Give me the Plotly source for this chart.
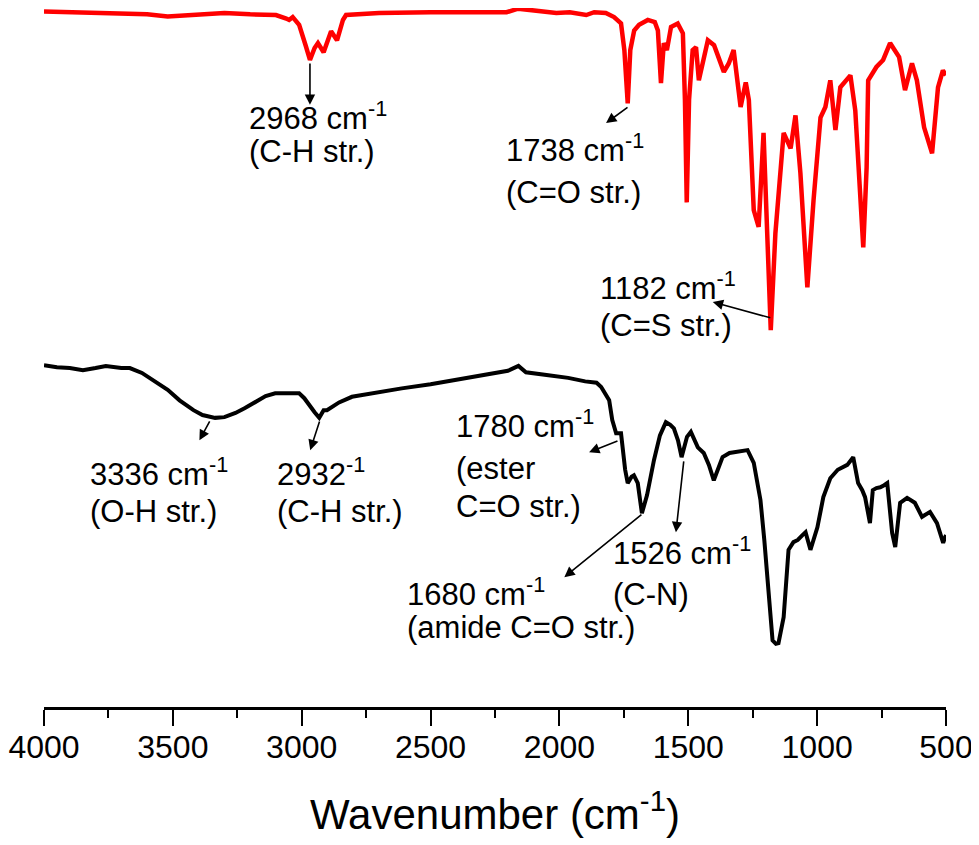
import plotly.graph_objects as go

# FTIR spectra, transmittance in arbitrary units (curves offset for clarity)
red_wavenumber = [4000, 3900, 3800, 3700, 3600, 3520, 3400, 3300, 3200, 3100, 3060, 3049, 3035, 3010,
                  2985, 2968, 2950, 2937, 2915, 2886, 2863, 2840, 2828, 2700, 2500, 2300, 2205, 2160,
                  2120, 2060, 2012, 1960, 1896, 1865, 1820, 1788, 1761, 1748, 1735, 1725, 1710, 1691,
                  1657, 1630, 1618, 1606, 1595, 1583, 1567, 1541, 1521, 1513, 1506, 1497, 1483, 1470,
                  1459, 1424, 1400, 1362, 1343, 1324, 1297, 1277, 1265, 1246, 1227, 1208, 1194, 1180,
                  1162, 1130, 1103, 1084, 1065, 1038, 1014, 987, 968, 949, 929, 910, 871, 852, 821,
                  808, 802, 770, 744, 717, 682, 659, 632, 613, 585, 554, 531, 512, 500]
red_transmittance = [99.1, 99.0, 98.9, 98.9, 98.7, 98.4, 98.7, 98.9, 98.7, 98.6, 98.1, 97.9, 98.3, 97.2,
                     94.3, 92.2, 93.9, 94.6, 93.3, 96.3, 95.0, 97.9, 98.6, 98.9, 99.0, 99.0, 99.0, 99.5,
                     99.3, 99.0, 98.9, 99.0, 98.6, 99.0, 98.9, 98.3, 97.4, 93.6, 86.0, 93.6, 96.4, 97.2,
                     97.9, 97.6, 96.4, 88.9, 94.6, 93.6, 96.9, 97.4, 96.0, 86.5, 71.9, 86.5, 93.6, 94.0,
                     89.3, 95.0, 94.3, 90.5, 91.7, 93.6, 85.5, 89.0, 86.5, 70.8, 68.4, 81.8, 67.5, 53.7,
                     67.5, 81.8, 79.6, 84.3, 76.1, 59.8, 72.2, 84.0, 85.5, 89.3, 82.2, 88.3, 90.0, 85.0, 65.5,
                     76.9, 89.3, 91.2, 92.2, 94.6, 92.6, 87.9, 91.7, 89.3, 82.6, 78.9, 88.3, 90.7, 90.0]

black_wavenumber = [4000, 3950, 3900, 3849, 3800, 3760, 3700, 3667, 3620, 3578, 3520, 3474, 3420, 3385,
                    3336, 3300, 3257, 3220, 3180, 3140, 3103, 3050, 3010, 2990, 2972, 2950, 2932, 2915,
                    2902, 2885, 2855, 2805, 2700, 2612, 2500, 2353, 2250, 2200, 2159, 2130, 2050, 1966,
                    1900, 1856, 1838, 1820, 1807, 1795, 1780, 1761, 1745, 1735, 1720, 1711, 1696, 1680,
                    1660, 1633, 1610, 1587, 1570, 1556, 1540, 1526, 1505, 1490, 1475, 1463, 1440, 1420,
                    1401, 1385, 1367, 1340, 1324, 1290, 1270, 1246, 1220, 1205, 1192, 1173, 1160, 1150,
                    1130, 1111, 1092, 1075, 1057, 1045, 1026, 1010, 999, 976, 949, 920, 883, 860, 841,
                    825, 814, 795, 784, 770, 755, 740, 728, 709, 697, 678, 651, 621, 593, 562, 535, 511, 500]
black_transmittance = [48.7, 48.4, 48.3, 48.0, 48.3, 48.6, 48.3, 48.3, 47.6, 46.6, 45.2, 43.7, 42.3, 41.6,
                       41.2, 41.3, 41.9, 42.6, 43.4, 44.3, 44.7, 44.7, 44.7, 44.0, 43.0, 42.0, 41.2, 42.3,
                       42.3, 42.7, 43.4, 44.2, 44.9, 45.4, 46.0, 46.9, 47.6, 47.9, 48.6, 47.7, 47.3, 46.9,
                       46.4, 46.2, 45.6, 44.4, 43.7, 40.9, 39.0, 39.0, 33.8, 31.9, 32.8, 33.0, 31.9, 27.6,
                       30.2, 35.2, 38.7, 40.6, 40.2, 39.7, 38.0, 35.6, 38.5, 39.2, 38.0, 37.0, 36.2, 34.5,
                       32.3, 33.8, 35.6, 36.2, 36.3, 36.5, 36.6, 34.8, 29.5, 23.8, 17.7, 9.5, 9.0, 9.1,
                       12.8, 22.4, 23.5, 23.8, 24.5, 24.9, 22.4, 24.5, 25.6, 29.9, 32.6, 33.8, 34.5, 35.6, 31.9,
                       30.9, 29.9, 26.2, 30.9, 31.2, 31.3, 31.6, 31.9, 24.8, 22.8, 29.1, 29.8, 29.1, 27.1, 27.8,
                       26.2, 23.4, 24.5]

tick_values = [4000, 3500, 3000, 2500, 2000, 1500, 1000, 500]
minor_tick_values = [3750, 3250, 2750, 2250, 1750, 1250, 750]

peak_label_lines = [['2968 cm<sup>-1</sup>', '(C-H str.)'],
                    ['1738 cm<sup>-1</sup>', '(C=O str.)'],
                    ['1182 cm<sup>-1</sup>', '(C=S str.)'],
                    ['3336 cm<sup>-1</sup>', '(O-H str.)'],
                    ['2932<sup>-1</sup>', '(C-H str.)'],
                    ['1780 cm<sup>-1</sup>', '(ester', 'C=O str.)'],
                    ['1680 cm<sup>-1</sup>', '(amide C=O str.)'],
                    ['1526 cm<sup>-1</sup>', '(C-N)']]

FONT = 'Liberation Sans, Arial, sans-serif'

fig = go.Figure()
fig.add_trace(go.Scatter(x=red_wavenumber, y=red_transmittance, mode='lines',
                         line=dict(color='#ff0000', width=4.5), showlegend=False))
fig.add_trace(go.Scatter(x=black_wavenumber, y=black_transmittance, mode='lines',
                         line=dict(color='#000000', width=4), showlegend=False))

# label placement: left x and the y of each line
label_x = [3211, 2217, 1850, 3830, 3103, 2410, 2600, 1800]
label_line_y = [[84.2, 79.1], [79.6, 73.3], [60.0, 54.3], [33.5, 27.9],
                [33.5, 27.9], [40.3, 34.0, 28.5], [16.4, 11.3], [22.2, 16.1]]
for lines, lx, ys in zip(peak_label_lines, label_x, label_line_y):
    for text, ly in zip(lines, ys):
        fig.add_annotation(x=lx, y=ly, text=text, showarrow=False, xanchor='left', yanchor='middle',
                           align='left', font=dict(family=FONT, size=31, color='black'))

# arrows: tail on the peak, head pointing at the label
arrows = [((2968, 91.9), (2968, 85.8)),
          ((1730, 85.6), (1819, 83.2)),
          ((1176, 55.4), (1405, 57.7)),
          ((3354, 40.9), (3397, 38.0)),
          ((2929, 40.9), (2967, 36.6)),
          ((1769, 38.0), (1885, 36.3)),
          ((1676, 27.6), (1981, 18.5)),
          ((1517, 35.2), (1548, 24.9))]
for (tx, ty), (hx, hy) in arrows:
    fig.add_annotation(x=hx, y=hy, ax=tx, ay=ty, xref='x', yref='y', axref='x', ayref='y',
                       text='', showarrow=True, arrowhead=2, arrowsize=1.3, arrowwidth=1.6,
                       arrowcolor='black', standoff=0, startstandoff=0)

# page body adds an 8px offset, so the figure is a bit smaller than the window
fig.update_layout(width=971, height=837, margin=dict(l=33, r=33, t=0, b=138),
                  plot_bgcolor='white', paper_bgcolor='white',
                  font=dict(family=FONT, color='black'))
fig.update_xaxes(range=[4000, 500], tickvals=tick_values, showgrid=False, zeroline=False,
                 showline=True, linecolor='black', linewidth=2.5,
                 ticks='outside', ticklen=16, tickwidth=2, tickcolor='black',
                 tickfont=dict(family=FONT, size=32), ticklabelstandoff=-6,
                 ticklabeloverflow='allow',
                 minor=dict(ticks='outside', ticklen=8, tickwidth=2, tickcolor='black',
                            tickvals=minor_tick_values),
                 title=dict(text='Wavenumber (cm<sup>-1</sup>)', font=dict(family=FONT, size=42),
                            standoff=36))
fig.update_yaxes(range=[0, 99.6], visible=False)

fig.write_html('out.html')
